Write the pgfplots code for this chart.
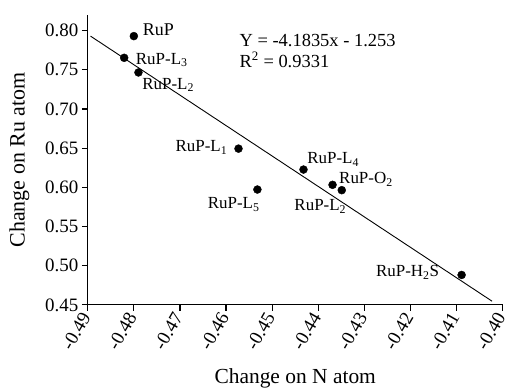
\documentclass[border=0pt]{standalone}
\usepackage{pgfplots}
\pgfplotsset{compat=1.18}
\usepackage{fontspec}
\setmainfont{Liberation Serif}
\begin{document}
\begin{tikzpicture}
\begin{axis}[
  name=ax,
  scale only axis,
  width=416pt, height=290.7pt,
  xmin=-0.49, xmax=-0.40, ymin=0.45, ymax=0.82,
  axis lines=left,
  axis line style={-, line width=1.2pt},
  tick style={line width=1.2pt, black},
  tick align=outside,
  major tick length=6pt,
  xtick={-0.49,-0.48,-0.47,-0.46,-0.45,-0.44,-0.43,-0.42,-0.41,-0.40},
  ytick={0.45,0.50,0.55,0.60,0.65,0.70,0.75,0.80},
  /pgf/number format/assume math mode=true,
  /pgf/number format/.cd, fixed, fixed zerofill, precision=2, /pgfplots/.cd,
  ticklabel style={font=\fontsize{19}{19}\selectfont},
  xticklabel style={rotate=60, anchor=east},
  xlabel={Change on N atom},
  ylabel={Change on Ru atom},
  xlabel style={font=\fontsize{21.5}{21.5}\selectfont, yshift=-9pt},
  ylabel style={font=\fontsize{22}{22}\selectfont, yshift=9pt},
  clip=false,
]
\addplot[only marks, mark=*, mark size=4pt, black] coordinates {
  (-0.4800,0.793) (-0.4821,0.7653) (-0.4790,0.7466) (-0.4573,0.6494)
  (-0.4532,0.5972) (-0.4432,0.6227) (-0.4369,0.6032) (-0.4349,0.5964)
  (-0.4089,0.4882)
};
\addplot[black, line width=0.9pt, no marks] coordinates {(-0.4894,0.793) (-0.4023,0.4547)};
\begin{scope}[every node/.style={font=\fontsize{17}{17}\selectfont, inner sep=0pt}]
\node[anchor=west] at (axis cs:-0.4781,0.8009) {\fontsize{18}{18}\selectfont RuP};
\node[anchor=west] at (axis cs:-0.4796,0.7627) {RuP-L\textsubscript{3}};
\node[anchor=west] at (axis cs:-0.4782,0.7309) {RuP-L\textsubscript{2}};
\node[anchor=east] at (axis cs:-0.4597,0.6508) {RuP-L\textsubscript{1}};
\node[anchor=west] at (axis cs:-0.4640,0.5783) {RuP-L\textsubscript{5}};
\node[anchor=west] at (axis cs:-0.4424,0.6356) {RuP-L\textsubscript{4}};
\node[anchor=west] at (axis cs:-0.4355,0.6102) {RuP-O\textsubscript{2}};
\node[anchor=west] at (axis cs:-0.4452,0.5756) {RuP-L\textsubscript{2}};
\node[anchor=west] at (axis cs:-0.4275,0.4916) {RuP-H\textsubscript{2}S};
\node[anchor=west, font=\fontsize{18.5}{18.5}\selectfont] at (axis cs:-0.4571,0.788) {Y = -4.1835x - 1.253};
\node[anchor=west, font=\fontsize{18.5}{18.5}\selectfont] at (axis cs:-0.4571,0.7627) {R\textsuperscript{2} = 0.9331};
\end{scope}
\end{axis}
\path ([shift={(-88pt,-79.3pt)}]ax.south west) rectangle ([shift={(423pt,305.7pt)}]ax.south west);
\end{tikzpicture}
\end{document}
